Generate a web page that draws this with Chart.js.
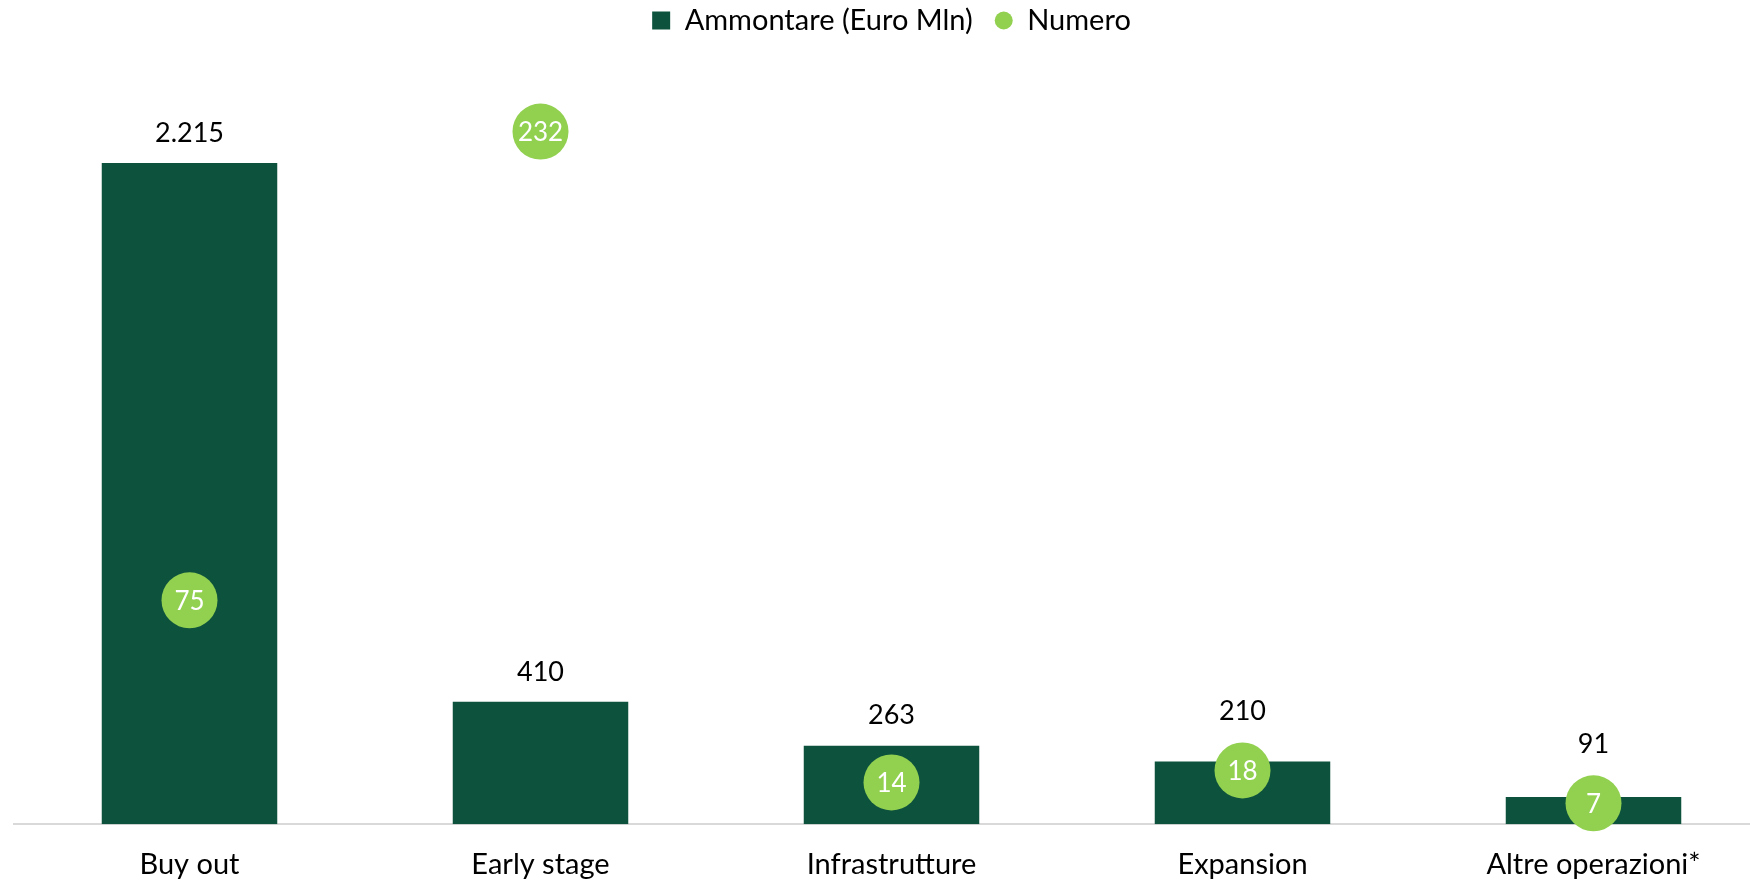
<!DOCTYPE html>
<html>
<head>
<meta charset="utf-8">
<script src="https://cdn.jsdelivr.net/npm/chart.js@4/dist/chart.umd.min.js"></script>
<style>
    html, body { margin: 0; padding: 0; background: #fff; overflow: hidden; }
    canvas { display: block; }
</style>
</head>
<body>
<canvas id="grafico" width="1770" height="883"></canvas>
<script>
const categorie = ['Buy out', 'Early stage', 'Infrastrutture', 'Expansion', 'Altre operazioni*'];
const ammontare = [2215, 410, 263, 210, 91];
const numero = [75, 232, 14, 18, 7];

const verdeScuro = '#0C523D';
const verdeChiaro = '#92D050';
const font = 'Lato, "Open Sans", sans-serif';
const raggio = 28;

// formato italiano: 2.215
function fmt(v) {
    return v.toString().replace(/\B(?=(\d{3})+(?!\d))/g, '.');
}

// etichette sui dati
const etichette = {
    id: 'etichette',
    afterDatasetsDraw(chart) {
        const ctx = chart.ctx;
        const punti = chart.getDatasetMeta(1).data;
        ctx.save();
        ctx.textAlign = 'center';
        ctx.textBaseline = 'middle';
        chart.getDatasetMeta(0).data.forEach((bar, i) => {
            let y = bar.y - 30;
            const pt = punti[i];
            // se il cerchio copre l'etichetta, la sposto sopra il cerchio
            if (pt && pt.y - raggio < y + 15 && pt.y + raggio > y - 15) {
                y = pt.y - raggio - 31;
            }
            ctx.fillStyle = '#000';
            ctx.font = '27px ' + font;
            ctx.fillText(fmt(ammontare[i]), bar.x, y);
        });
        punti.forEach((pt, i) => {
            ctx.fillStyle = '#fff';
            ctx.font = '26px ' + font;
            ctx.fillText(fmt(numero[i]), pt.x, pt.y + 1);
        });
        ctx.restore();
    }
};

const data = {
    labels: categorie,
    datasets: [{
        type: 'bar',
        label: 'Ammontare (Euro Mln)',
        data: ammontare,
        backgroundColor: verdeScuro,
        borderWidth: 0,
        categoryPercentage: 0.5,
        barPercentage: 1,
        yAxisID: 'y',
        order: 2
    },
    {
        type: 'line',
        label: 'Numero',
        data: numero,
        showLine: false,
        pointRadius: raggio,
        pointHoverRadius: raggio,
        pointBackgroundColor: verdeChiaro,
        pointBorderWidth: 0,
        borderColor: verdeChiaro,
        backgroundColor: verdeChiaro,
        clip: false,
        yAxisID: 'y1',
        order: 1
    }]
};

const config = {
    data: data,
    plugins: [etichette],
    options: {
        responsive: false,
        animation: false,
        layout: {
            autoPadding: false,
            padding: { left: 14, right: 1, top: -16, bottom: -22 }
        },
        plugins: {
            tooltip: { enabled: false },
            legend: {
                position: 'top',
                labels: {
                    color: '#000',
                    font: { family: font, size: 29 },
                    boxWidth: 18,
                    boxHeight: 18,
                    padding: 22,
                    generateLabels: function(chart) {
                        return chart.data.datasets.map(function(ds, i) {
                            return {
                                text: ds.label,
                                fillStyle: i === 0 ? verdeScuro : verdeChiaro,
                                strokeStyle: i === 0 ? verdeScuro : verdeChiaro,
                                lineWidth: 0,
                                borderRadius: i === 0 ? 0 : 9,
                                hidden: false,
                                datasetIndex: i
                            };
                        });
                    }
                }
            }
        },
        scales: {
            x: {
                grid: { display: false, drawTicks: false },
                border: { color: '#D9D9D9', width: 2 },
                ticks: {
                    color: '#000',
                    font: { family: font, size: 29 },
                    padding: 23,
                    autoSkip: false,
                    maxRotation: 0
                }
            },
            y: {
                display: false,
                min: 0,
                max: 2610
            },
            y1: {
                display: false,
                position: 'right',
                min: 0,
                max: 261
            }
        }
    }
};

const grafico = new Chart(document.getElementById('grafico'), config);
</script>
</body>
</html>
